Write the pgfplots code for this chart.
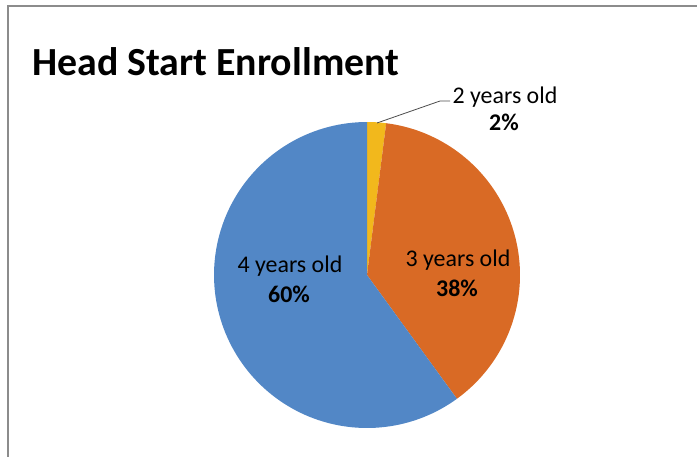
\documentclass[border=0pt]{standalone}
\usepackage{fontspec}
\setmainfont{Carlito}
\usepackage{pgfplots}
\usepackage{pgfplotstable}
\pgfplotsset{compat=1.18}

\definecolor{pieblue}{HTML}{5287C6}
\definecolor{pieorange}{HTML}{D96A25}
\definecolor{pieyellow}{HTML}{F2B81C}
\definecolor{framegray}{HTML}{8C8C8C}

% share of enrolment, percent (clockwise from 12 o'clock)
\pgfplotstableread{
age value
2 2
3 38
4 60
}\enroll

\begin{document}
\begin{tikzpicture}
\pgfplotstablegetelem{0}{value}\of\enroll \let\va\pgfplotsretval
\pgfplotstablegetelem{1}{value}\of\enroll \let\vb\pgfplotsretval
\pgfplotstablegetelem{2}{value}\of\enroll \let\vc\pgfplotsretval
\pgfmathsetmacro\aA{3.6*\va}
\pgfmathsetmacro\aB{3.6*(\va+\vb)}
\pgfmathsetmacro\aC{3.6*(\va+\vb+\vc)}
\begin{axis}[
  width=697bp, height=457bp, scale only axis,
  xmin=0, xmax=697, ymin=0, ymax=457, y dir=reverse,
  hide axis, clip=false,
]
% wedges, centre (367,275), radius 153
\addplot[fill=pieyellow, draw=none, domain=0:\aA, samples=6]
  ({367+153*sin(x)},{275-153*cos(x)}) -- (367,275) -- cycle;
\addplot[fill=pieorange, draw=none, domain=\aA:\aB, samples=80]
  ({367+153*sin(x)},{275-153*cos(x)}) -- (367,275) -- cycle;
\addplot[fill=pieblue, draw=none, domain=\aB:\aC, samples=120]
  ({367+153*sin(x)},{275-153*cos(x)}) -- (367,275) -- cycle;

% frame
\draw[framegray, line width=2bp] (8,457) -- (8,6) -- (697,6);

% title
\node[anchor=base west, inner sep=0pt, font=\fontsize{40}{48}\selectfont\bfseries]
  at (32,76) {Head Start Enrollment};

% labels
\node[anchor=base, inner sep=0pt, font=\fontsize{24}{28}\selectfont] at (290,272) {4 years old};
\node[anchor=base, inner sep=0pt, font=\fontsize{24}{28}\selectfont\bfseries] at (289,302) {60\%};
\node[anchor=base, inner sep=0pt, font=\fontsize{24}{28}\selectfont] at (458,266) {3 years old};
\node[anchor=base, inner sep=0pt, font=\fontsize{24}{28}\selectfont\bfseries] at (457,296) {38\%};
\node[anchor=base, inner sep=0pt, font=\fontsize{24}{28}\selectfont] at (505,103) {2 years old};
\node[anchor=base, inner sep=0pt, font=\fontsize{24}{28}\selectfont\bfseries] at (504,130) {2\%};
\draw[black!70, line width=0.8bp] (377,123) -- (440,101) -- (450,101);

\coordinate (bbA) at (rel axis cs:0,0);
\coordinate (bbB) at (rel axis cs:1,1);
\end{axis}
\pgfresetboundingbox
\useasboundingbox (bbA) rectangle (bbB);
\end{tikzpicture}
\end{document}
